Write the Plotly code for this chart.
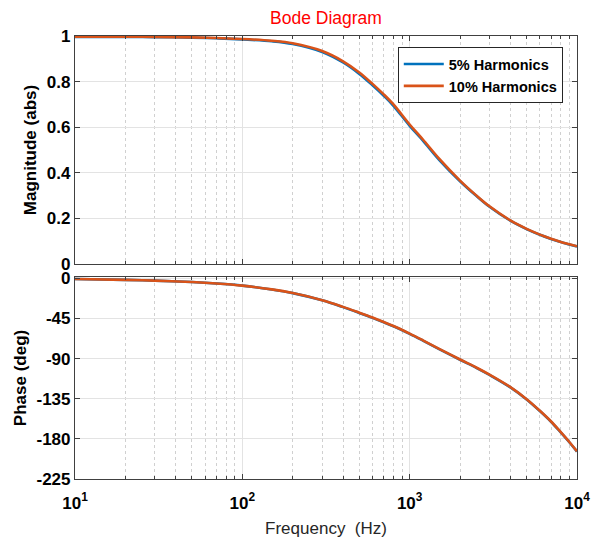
import plotly.graph_objects as go
from plotly.subplots import make_subplots

freq = [10, 20, 30, 50, 70, 100, 150, 200, 300, 400, 500, 600, 700, 800, 1000,
        1200, 1500, 2000, 2500, 3000, 4000, 5000, 6000, 7000, 8000, 9000, 10000]

mag_10 = [0.997, 0.997, 0.996, 0.994, 0.991, 0.987, 0.979, 0.968, 0.934, 0.889,
          0.840, 0.790, 0.744, 0.700, 0.612, 0.546, 0.462, 0.366, 0.301, 0.253,
          0.191, 0.154, 0.129, 0.111, 0.097, 0.087, 0.078]
mag_5 = [0.996, 0.996, 0.995, 0.993, 0.990, 0.985, 0.977, 0.965, 0.930, 0.884,
         0.834, 0.784, 0.738, 0.694, 0.606, 0.541, 0.457, 0.363, 0.299, 0.251,
         0.190, 0.153, 0.128, 0.110, 0.096, 0.086, 0.077]

phase_10 = [-0.8, -1.7, -2.6, -4.2, -5.8, -8.2, -12.4, -16.5, -24.5, -32.0,
            -38.5, -44.0, -49.0, -53.5, -62.0, -69.5, -79.0, -91.0, -100.0, -108.0,
            -122.0, -135.5, -148.5, -160.5, -172.5, -183.5, -194.0]
phase_5 = [-0.8, -1.7, -2.6, -4.2, -5.8, -8.2, -12.5, -16.6, -24.7, -32.3,
           -38.8, -44.3, -49.3, -53.8, -62.3, -69.8, -79.3, -91.3, -100.3, -108.3,
           -122.3, -135.8, -148.8, -160.8, -172.8, -183.8, -194.3]

series_names = ["5% Harmonics", "10% Harmonics"]
colors = ["#0072BD", "#D95319"]

x_major = [10, 100, 1000, 10000]
x_major_text = ["10<sup>1</sup>", "10<sup>2</sup>", "10<sup>3</sup>", "10<sup>4</sup>"]
x_minor = [m * d for d in (10, 100, 1000) for m in range(2, 10)]
mag_ticks = [0, 0.2, 0.4, 0.6, 0.8, 1]
phase_ticks = [0, -45, -90, -135, -180, -225]

fig = make_subplots(rows=2, cols=1, shared_xaxes=False, vertical_spacing=0.03)

for name, col, m in zip(series_names, colors, [mag_5, mag_10]):
    fig.add_trace(go.Scatter(x=freq, y=m, mode="lines", name=name,
                             line=dict(color=col, width=2.6, shape="spline")), row=1, col=1)
for name, col, p in zip(series_names, colors, [phase_5, phase_10]):
    fig.add_trace(go.Scatter(x=freq, y=p, mode="lines", name=name, showlegend=False,
                             line=dict(color=col, width=2.6, shape="spline")), row=2, col=1)

axis_color = "#404040"
grid_color = "#E3E3E3"
FONT = "Liberation Sans, Arial"
tick_font = dict(family=FONT, size=17, color="black", weight="bold")

common_x = dict(type="log", range=[1, 4], tickvals=x_major, ticktext=x_major_text,
                showline=True, linecolor=axis_color, linewidth=1.2, mirror="ticks",
                ticks="inside", ticklen=5, tickcolor=axis_color,
                showgrid=True, gridcolor=grid_color, gridwidth=1,
                minor=dict(tickvals=x_minor, ticks="inside", ticklen=3, tickcolor=axis_color,
                           showgrid=True, gridcolor="#D0D0D0", griddash="dot", gridwidth=1),
                zeroline=False, tickfont=tick_font, automargin=False)

fig.update_xaxes(**common_x, showticklabels=False, row=1, col=1)
fig.update_xaxes(**common_x, showticklabels=True, ticklabelstandoff=8, row=2, col=1,
                 title=dict(text="Frequency  (Hz)", standoff=10,
                            font=dict(family=FONT, size=17, color="#262626")))

common_y = dict(showline=True, linecolor=axis_color, linewidth=1.2, mirror="ticks",
                ticks="inside", ticklen=5, tickcolor=axis_color,
                showgrid=True, gridcolor=grid_color, gridwidth=1,
                zeroline=False, tickfont=tick_font, automargin=False)

fig.update_yaxes(**common_y, range=[0, 1], tickvals=mag_ticks,
                 ticktext=["0", "0.2", "0.4", "0.6", "0.8", "1"],
                 title=dict(text="<b>Magnitude (abs)</b>", standoff=5,
                            font=dict(family=FONT, size=17, color="black")),
                 row=1, col=1)
fig.update_yaxes(**common_y, range=[-225, 1.5], tickvals=phase_ticks,
                 ticktext=[str(t) for t in phase_ticks],
                 title=dict(text="<b>Phase (deg)</b>", standoff=5,
                            font=dict(family=FONT, size=17, color="black")),
                 row=2, col=1)

fig.update_layout(
    width=592, height=539,
    margin=dict(l=75, r=15, t=36, b=60, autoexpand=False),
    paper_bgcolor="white", plot_bgcolor="white",
    title=dict(text="Bode Diagram", x=0.5, xanchor="center", y=0.966, yanchor="middle",
               xref="paper",
               font=dict(family=FONT, size=17.5, color="#FF0000")),
    legend=dict(x=0.643, y=0.975, xanchor="left", yanchor="top",
                bordercolor="#262626", borderwidth=1, bgcolor="white",
                font=dict(family=FONT, size=14.5, color="black", weight="bold"),
                tracegroupgap=0, itemwidth=40),
    showlegend=True,
)
fig.layout.yaxis.domain = [0.4853, 1.0]
fig.layout.yaxis2.domain = [0.0, 0.456]

fig.write_html("out.html")
